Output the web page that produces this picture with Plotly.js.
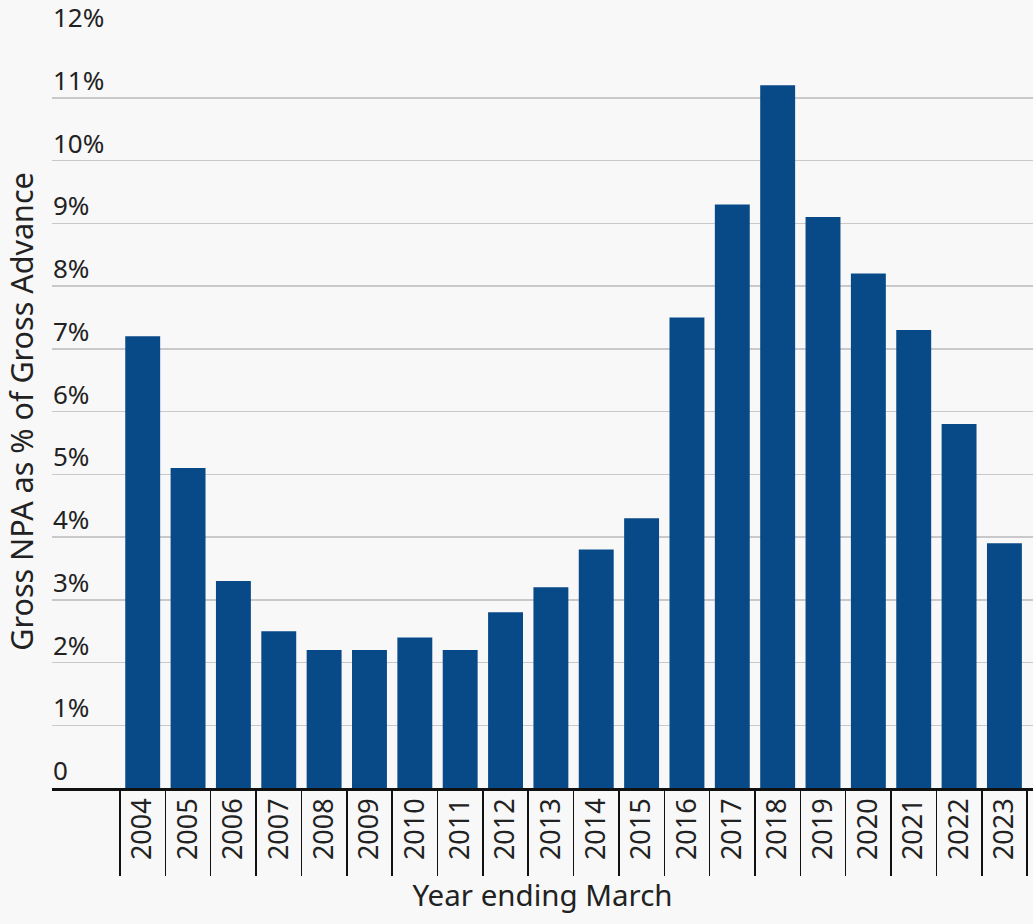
<!DOCTYPE html>
<html>
<head>
<meta charset="utf-8">
<script src="https://cdn.plot.ly/plotly-3.0.1.min.js"></script>
<style>
  html, body { margin: 0; padding: 0; background: #f8f8f9; }
  #chart { width: 1033px; height: 924px; }
</style>
</head>
<body>
<div id="chart"></div>
<script>
const years = ['2004','2005','2006','2007','2008','2009','2010','2011','2012','2013',
               '2014','2015','2016','2017','2018','2019','2020','2021','2022','2023'];
const grossNpaPct = [7.2, 5.1, 3.3, 2.5, 2.2, 2.2, 2.4, 2.2, 2.8, 3.2,
                     3.8, 4.3, 7.5, 9.3, 11.2, 9.1, 8.2, 7.3, 5.8, 3.9];
const yTickVals = [0,1,2,3,4,5,6,7,8,9,10,11,12];
const yTickText = ['0','1%','2%','3%','4%','5%','6%','7%','8%','9%','10%','11%','12%'];

const FONT = '"Noto Sans", "Open Sans", sans-serif';

const trace = {
  type: 'bar',
  x: years,
  y: grossNpaPct,
  width: 0.77,
  marker: { color: '#084a88' },
  hoverinfo: 'x+y'
};

// y tick labels sit left-aligned just above each gridline
const yLabelAnnotations = yTickVals.map((v, i) => ({
  xref: 'paper', x: 0, xanchor: 'left',
  yref: 'y', y: v, yanchor: 'bottom', yshift: -1,
  borderpad: 0,
  text: yTickText[i],
  showarrow: false,
  font: { family: FONT, size: 26, color: '#222222' }
}));

const layout = {
  width: 1033,
  height: 924,
  margin: { l: 52, r: 0, t: 35, b: 136 },
  paper_bgcolor: '#f8f8f9',
  plot_bgcolor: 'rgba(0,0,0,0)',
  showlegend: false,
  font: { family: FONT, color: '#222222', size: 26 },
  annotations: yLabelAnnotations,
  xaxis: {
    type: 'category',
    range: [-2, 19.63],
    tickson: 'boundaries',
    ticks: 'outside',
    ticklen: 85,
    tickwidth: 1.5,
    tickcolor: '#111111',
    tickangle: -90,
    ticklabelstandoff: -3,
    tickfont: { family: FONT, size: 27, color: '#222222' },
    showline: true,
    linecolor: '#111111',
    linewidth: 2.5,
    showgrid: false,
    zeroline: false,
    automargin: false,
    title: { text: 'Year ending March', font: { family: FONT, size: 29.5, color: '#222222' }, standoff: 27 }
  },
  yaxis: {
    range: [0, 12],
    tickvals: yTickVals,
    ticktext: yTickText,
    showticklabels: false,
    ticks: '',
    showgrid: true,
    gridcolor: '#c9c9cc',
    gridwidth: 1.5,
    zeroline: false,
    showline: false,
    automargin: false,
    title: { text: 'Gross NPA as % of Gross Advance', font: { family: FONT, size: 30.5, color: '#222222' }, standoff: 14 }
  }
};

Plotly.newPlot('chart', [trace], layout, { displayModeBar: false, staticPlot: true });
</script>
</body>
</html>
